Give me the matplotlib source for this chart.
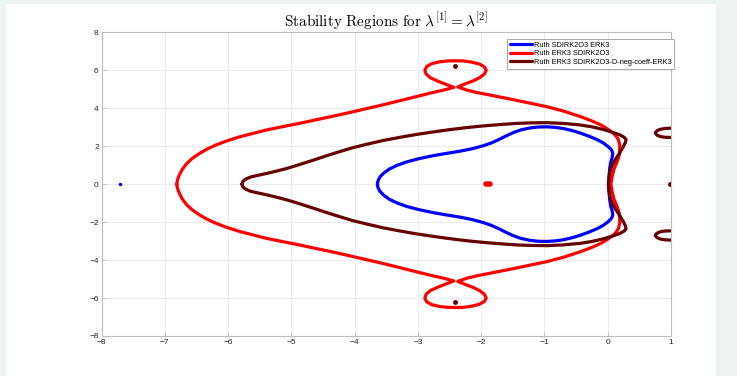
import numpy as np
import matplotlib
matplotlib.use("Agg")
import matplotlib.pyplot as plt
from matplotlib.patches import Rectangle

plt.rcParams['font.family'] = ['Liberation Sans', 'DejaVu Sans']
plt.rcParams['mathtext.fontset'] = 'cm'

# upper halves of the boundary curves, mirrored below
blue_x = [-3.64, -3.63, -3.60, -3.54, -3.45, -3.33, -3.18, -3.00, -2.76, -2.55,
          -2.33, -2.15, -1.97, -1.84, -1.72, -1.60, -1.49, -1.37, -1.23, -1.10,
          -0.96, -0.83, -0.70, -0.57, -0.44, -0.30, -0.17, -0.07, 0.01, 0.06,
          0.08, 0.07, 0.05, 0.03, 0.02, 0.02]
blue_y = [0.00, 0.18, 0.38, 0.58, 0.80, 0.99, 1.17, 1.33, 1.50, 1.62,
          1.74, 1.86, 2.02, 2.17, 2.35, 2.55, 2.72, 2.86, 2.96, 3.01,
          3.02, 2.99, 2.93, 2.83, 2.70, 2.53, 2.35, 2.17, 1.97, 1.80,
          1.62, 1.40, 1.18, 0.80, 0.40, 0.00]

red_x = [-6.81, -6.80, -6.77, -6.72, -6.65, -6.56, -6.45, -6.33, -6.20, -6.02,
         -5.81, -5.60, -5.40, -5.18, -4.95, -4.65, -4.34, -4.07, -3.81, -3.55,
         -3.28, -3.04, -2.80, -2.60, -2.43,
         -2.55, -2.68, -2.80, -2.87, -2.89, -2.86, -2.78, -2.65, -2.52, -2.41,
         -2.28, -2.15, -2.03, -1.95, -1.92, -1.95, -2.02, -2.12, -2.24, -2.37,
         -2.22, -2.07, -1.90, -1.70, -1.49, -1.23, -0.96, -0.70, -0.44, -0.25,
         -0.12, 0.00, 0.09, 0.14, 0.17, 0.19, 0.19, 0.18, 0.15, 0.10,
         0.07, 0.05]
red_y = [0.00, 0.22, 0.48, 0.80, 1.10, 1.37, 1.62, 1.85, 2.05, 2.28,
         2.50, 2.68, 2.85, 3.00, 3.15, 3.36, 3.58, 3.78, 3.98, 4.18,
         4.40, 4.60, 4.80, 4.95, 5.10,
         5.25, 5.42, 5.60, 5.80, 6.01, 6.20, 6.35, 6.45, 6.49, 6.50,
         6.49, 6.43, 6.33, 6.18, 6.00, 5.80, 5.62, 5.45, 5.30, 5.12,
         4.95, 4.83, 4.72, 4.59, 4.45, 4.27, 4.08, 3.85, 3.57, 3.33,
         3.14, 2.90, 2.68, 2.50, 2.33, 2.05, 1.80, 1.50, 1.20, 0.80,
         0.40, 0.00]

dred_x = [-5.78, -5.77, -5.73, -5.65, -5.52, -5.38, -5.22, -5.07, -4.92, -4.77,
          -4.62, -4.44, -4.25, -4.03, -3.81, -3.55, -3.28, -3.02, -2.76, -2.50,
          -2.23, -1.96, -1.70, -1.45, -1.20, -0.96, -0.70, -0.44, -0.25, -0.07,
          0.08, 0.19, 0.26, 0.29, 0.28, 0.25, 0.19, 0.12, 0.07, 0.04,
          0.02, 0.01]
dred_y = [0.00, 0.12, 0.25, 0.37, 0.47, 0.57, 0.70, 0.83, 0.98, 1.14,
          1.30, 1.50, 1.70, 1.92, 2.10, 2.30, 2.47, 2.62, 2.75, 2.87,
          2.98, 3.07, 3.14, 3.20, 3.23, 3.24, 3.20, 3.12, 3.02, 2.88,
          2.73, 2.60, 2.47, 2.35, 2.20, 2.00, 1.65, 1.30, 1.00, 0.70,
          0.35, 0.00]

# small dark red loop cut by the right edge (upper one, mirrored below)
loop_x = [1.10, 1.00, 0.90, 0.83, 0.78, 0.75, 0.78, 0.83, 0.90, 1.00, 1.10]
loop_y = [2.96, 2.95, 2.93, 2.89, 2.82, 2.70, 2.58, 2.51, 2.47, 2.46, 2.46]

# isolated points
blue_pt = (-7.70, 0.0)
red_pt_x = [-1.92, -1.86]
red_pt_y = [0.0, 0.0]
dred_pts_x = [-2.42, -2.42, 0.98]
dred_pts_y = [6.22, -6.22, 0.0]

labels = ['Ruth SDIRK2O3 ERK3', 'Ruth ERK3 SDIRK2O3',
          'Ruth ERK3 SDIRK2O3-D-neg-coeff-ERK3']
colors = ['#0000ff', '#ff0000', '#660000']


def closed(xs, ys):
    xs = np.asarray(xs)
    ys = np.asarray(ys)
    return (np.concatenate([xs, xs[::-1][1:]]),
            np.concatenate([ys, -ys[::-1][1:]]))


fig = plt.figure(figsize=(7.37, 3.76), dpi=100)
fig.patch.set_facecolor('white')
bg = '#eef4f2'
fig.patches.append(Rectangle((0, 0), 6 / 737, 1, transform=fig.transFigure,
                             facecolor=bg, edgecolor='none', zorder=-5))
fig.patches.append(Rectangle((0, 1 - 4 / 376), 1, 4 / 376, transform=fig.transFigure,
                             facecolor=bg, edgecolor='none', zorder=-5))
fig.patches.append(Rectangle((716 / 737, 0), 21 / 737, 1, transform=fig.transFigure,
                             facecolor=bg, edgecolor='none', zorder=-5))

ax = fig.add_axes([101.5 / 737, 1 - 336 / 376, (671 - 101.5) / 737, (336 - 32.3) / 376])

lw = 2.3
style = dict(lw=lw, solid_capstyle='round', solid_joinstyle='round')
bx, by = closed(blue_x, blue_y)
rx, ry = closed(red_x, red_y)
dx, dy = closed(dred_x, dred_y)
ax.plot(bx, by, color=colors[0], label=labels[0], **style)
ax.plot(rx, ry, color=colors[1], label=labels[1], **style)
ax.plot(dx, dy, color=colors[2], label=labels[2], **style)
ax.plot(loop_x, loop_y, color=colors[2], **style)
ax.plot(loop_x, [-v for v in loop_y], color=colors[2], **style)

ax.plot(*blue_pt, 'o', color=colors[0], ms=2.5, mec='none')
ax.plot(red_pt_x, red_pt_y, color=colors[1], lw=4, solid_capstyle='round')
ax.plot(dred_pts_x, dred_pts_y, 'o', color=colors[2], ms=3.5, mec='none')

ax.set_xlim(-8, 1)
ax.set_ylim(-8, 8)
ax.set_xticks(range(-8, 2))
ax.set_yticks(range(-8, 9, 2))
ax.grid(True, color='#ebebeb', lw=0.7)
ax.set_axisbelow(True)
for s in ax.spines.values():
    s.set_color('#bdbdbd')
    s.set_linewidth(0.8)
ax.tick_params(direction='in', length=3, width=0.6, color='#bdbdbd',
               labelsize=6, labelcolor='#262626', pad=2)

ax.set_title(r'$\mathrm{Stability\ Regions\ for\ }\lambda^{[1]}=\lambda^{[2]}$',
             fontsize=11, pad=4)

leg = ax.legend(loc='upper right', bbox_to_anchor=(1.006, 0.978), fontsize=5.3,
                fancybox=False, framealpha=1, edgecolor='#9a9a9a',
                handlelength=3.0, handletextpad=0.3, borderpad=0.35,
                labelspacing=0.2, borderaxespad=0)
leg.get_frame().set_linewidth(0.6)
for h in leg.get_lines():
    h.set_linewidth(2.3)

fig.savefig('out.png', dpi=100)
